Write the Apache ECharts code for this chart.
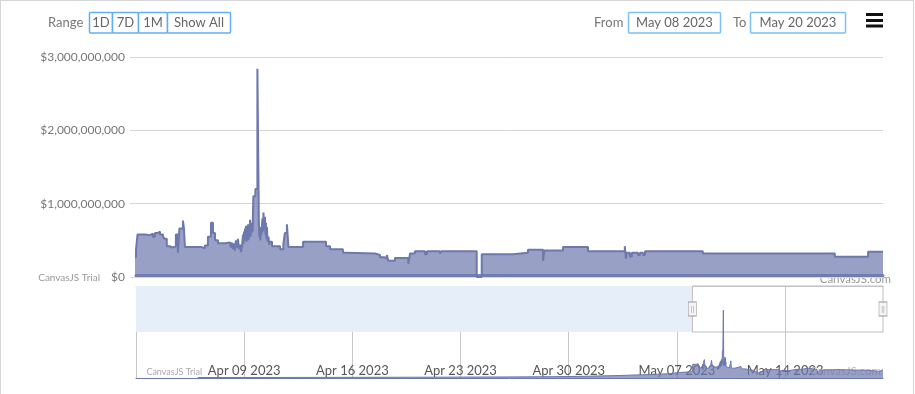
<!DOCTYPE html>
<html><head><meta charset="utf-8">
<script src="https://cdn.jsdelivr.net/npm/echarts@6/dist/echarts.min.js"></script>
<style>
html,body{margin:0;padding:0;background:#fff;}
#chart{width:915px;height:394px;position:absolute;left:0;top:0;}
#frame{position:absolute;left:0;top:0;width:912px;height:400px;border:1px solid #d6d6d6;pointer-events:none;}
</style></head><body>
<div id="chart"></div><div id="frame"></div>
<script>
// ---- data (values in billions of USD) ----
const historyTimes = ['2023-04-06 00:00','2023-04-09 00:00','2023-04-18 00:00','2023-04-22 00:00','2023-04-26 00:00','2023-04-29 00:00','2023-05-01 00:00','2023-05-03 00:00','2023-05-05 00:00','2023-05-06 12:00','2023-05-07 00:00'];
const historyValues = [0.02,0.03,0.035,0.045,0.055,0.07,0.10,0.14,0.18,0.22,0.27];

const windowTimes = [
'2023-05-08 00:00','2023-05-08 00:36','2023-05-08 03:36','2023-05-08 05:30','2023-05-08 06:42','2023-05-08 07:30','2023-05-08 08:42','2023-05-08 09:30','2023-05-08 10:42','2023-05-08 11:18','2023-05-08 12:12','2023-05-08 13:30','2023-05-08 14:18','2023-05-08 15:48','2023-05-08 16:36','2023-05-08 17:12','2023-05-08 18:36','2023-05-08 19:00','2023-05-08 19:24',
'2023-05-09 01:48','2023-05-09 03:18','2023-05-09 04:30','2023-05-09 05:42','2023-05-09 06:30','2023-05-09 07:18','2023-05-09 08:30','2023-05-09 11:18',
'2023-05-09 13:12','2023-05-09 13:36','2023-05-09 14:00','2023-05-09 14:24','2023-05-09 14:48','2023-05-09 15:12','2023-05-09 15:36','2023-05-09 16:00','2023-05-09 16:24','2023-05-09 16:48','2023-05-09 17:12','2023-05-09 17:36','2023-05-09 18:00','2023-05-09 18:24','2023-05-09 18:36','2023-05-09 18:48',
'2023-05-09 19:00','2023-05-09 19:12','2023-05-09 19:24','2023-05-09 19:36','2023-05-09 19:48','2023-05-09 20:00','2023-05-09 20:12','2023-05-09 20:24','2023-05-09 20:36','2023-05-09 20:48','2023-05-09 21:00','2023-05-09 21:12','2023-05-09 21:24','2023-05-09 21:36','2023-05-09 21:48','2023-05-09 22:00','2023-05-09 22:12','2023-05-09 22:30','2023-05-09 23:18',
'2023-05-10 00:06','2023-05-10 00:42','2023-05-10 00:54','2023-05-10 01:06','2023-05-10 01:18','2023-05-10 01:30','2023-05-10 01:42','2023-05-10 02:06','2023-05-10 02:18','2023-05-10 02:30','2023-05-10 02:48','2023-05-10 03:06','2023-05-10 03:18','2023-05-10 03:30','2023-05-10 03:42','2023-05-10 03:54','2023-05-10 04:06','2023-05-10 04:30','2023-05-10 04:48','2023-05-10 05:06','2023-05-10 05:54',
'2023-05-10 09:06','2023-05-10 10:24','2023-05-10 11:00','2023-05-10 11:48','2023-05-10 12:24','2023-05-10 18:12',
'2023-05-11 03:18','2023-05-11 04:54','2023-05-11 10:00','2023-05-11 11:30','2023-05-11 22:42',
'2023-05-12 00:42','2023-05-12 02:36','2023-05-12 03:24','2023-05-12 04:00','2023-05-12 06:36','2023-05-12 11:54','2023-05-12 12:36','2023-05-12 14:30','2023-05-12 18:30','2023-05-12 19:18',
'2023-05-13 00:24','2023-05-13 01:00','2023-05-13 15:00','2023-05-13 17:00',
'2023-05-14 05:24','2023-05-14 11:18','2023-05-14 17:18','2023-05-14 17:48',
'2023-05-15 01:12','2023-05-15 11:06',
'2023-05-16 01:42','2023-05-16 02:06','2023-05-16 02:30','2023-05-16 03:42','2023-05-16 04:30','2023-05-16 06:54','2023-05-16 07:42','2023-05-16 08:54','2023-05-16 09:42',
'2023-05-17 08:36','2023-05-19 12:54','2023-05-20 02:06','2023-05-20 08:00'
];
const windowValues = [
0.37,0.58,0.57,0.59,0.55,0.60,0.62,0.58,0.55,0.52,0.42,0.40,0.42,0.58,0.33,0.66,0.77,0.66,0.41,
0.39,0.43,0.55,0.74,0.60,0.50,0.46,0.47,
0.45,0.40,0.47,0.38,0.46,0.36,0.50,0.40,0.52,0.38,0.44,0.34,0.42,0.58,0.45,0.62,
0.50,0.66,0.52,0.70,0.48,0.64,0.55,0.72,0.50,0.68,0.58,0.78,0.55,0.70,0.60,0.74,0.62,1.10,1.20,
2.84,0.72,0.55,0.68,0.50,0.66,0.58,0.80,0.62,0.88,0.66,0.82,0.58,0.74,0.52,0.68,0.48,0.55,0.44,0.48,0.42,
0.38,0.45,0.60,0.72,0.41,0.48,
0.42,0.38,0.33,0.32,0.30,
0.27,0.25,0.30,0.22,0.26,0.18,0.32,0.35,0.31,0.35,
0.32,0.35,0.00,0.31,
0.33,0.37,0.22,0.36,
0.41,0.35,
0.42,0.25,0.33,0.28,0.33,0.30,0.33,0.30,0.35,
0.32,0.275,0.345,0.345
];

const yTickValues = [0, 1e9, 2e9, 3e9];
const rangeButtons = ['1D','7D','1M','Show All'];
const fromText = 'May 08 2023';
const toText = 'May 20 2023';
const navStartStr = '2023-04-02 00:00';
const viewStartStr = '2023-05-08 00:00';
const viewEndStr = '2023-05-20 08:00';
const months = ['Jan','Feb','Mar','Apr','May','Jun','Jul','Aug','Sep','Oct','Nov','Dec'];

// ---- build ----
function toMs(s){const [d,t]=s.split(' ');const [Y,M,D]=d.split('-').map(Number);const [h,m]=t.split(':').map(Number);return new Date(Y,M-1,D,h,m).getTime();}
const allTimes = historyTimes.concat(windowTimes);
const allValues = historyValues.concat(windowValues);
const data = allTimes.map((t,i)=>[toMs(t), allValues[i]*1e9]);
const navStart = toMs(navStartStr), viewStart = toMs(viewStartStr), viewEnd = toMs(viewEndStr);
const WEEK = 7*24*3600*1000;
const navMax = 3.85e9;
const COLOR = '#6D78AD';
const FONT = 'Lato, "Open Sans", sans-serif';
function fmtDate(v){const d=new Date(v);return months[d.getMonth()]+' '+String(d.getDate()).padStart(2,'0')+' '+d.getFullYear();}
function fmtMoney(v){return '$'+Math.round(v).toLocaleString('en-US');}

const graphics = [];
graphics.push({type:'text',x:48,y:22.5,style:{text:'Range',fill:'#777',font:'13px '+FONT,align:'left',verticalAlign:'middle'}});
const btnEdges = [89.5,112.5,138.5,167.5,230.5];
rangeButtons.forEach((b,i)=>{
  graphics.push({type:'rect',shape:{x:btnEdges[i],y:12.5,width:btnEdges[i+1]-btnEdges[i],height:20.5,r:1},style:{fill:'#fff',stroke:'#62aef3',lineWidth:1.5}});
  graphics.push({type:'text',x:(btnEdges[i]+btnEdges[i+1])/2,y:22.5,style:{text:b,fill:'#666',font:'13px '+FONT,align:'center',verticalAlign:'middle'}});
});
graphics.push({type:'text',x:594,y:22.5,style:{text:'From',fill:'#777',font:'13px '+FONT,align:'left',verticalAlign:'middle'}});
graphics.push({type:'rect',shape:{x:628.5,y:12.5,width:92,height:20.5,r:1},style:{fill:'#fff',stroke:'#7cc0f5',lineWidth:1.5}});
graphics.push({type:'text',x:674.5,y:22.5,style:{text:fromText,fill:'#666',font:'13px '+FONT,align:'center',verticalAlign:'middle'}});
graphics.push({type:'text',x:733,y:22.5,style:{text:'To',fill:'#777',font:'13px '+FONT,align:'left',verticalAlign:'middle'}});
graphics.push({type:'rect',shape:{x:750.5,y:12.5,width:95,height:20.5,r:1},style:{fill:'#fff',stroke:'#7cc0f5',lineWidth:1.5}});
graphics.push({type:'text',x:798,y:22.5,style:{text:toText,fill:'#666',font:'13px '+FONT,align:'center',verticalAlign:'middle'}});
[13,19,24.5].forEach(y=>graphics.push({type:'rect',shape:{x:866,y:y,width:17,height:3},style:{fill:'#111'}}));
// watermarks
graphics.push({type:'text',x:100,y:277.5,style:{text:'CanvasJS Trial',fill:'#999',font:'10px '+FONT,align:'right',verticalAlign:'middle'}});
graphics.push({type:'text',x:891,y:279,style:{text:'CanvasJS.com',fill:'#999',font:'11.5px '+FONT,align:'right',verticalAlign:'middle'}});
graphics.push({type:'text',x:202,y:372,style:{text:'CanvasJS Trial',fill:'#aaa',font:'9px '+FONT,align:'right',verticalAlign:'middle'},z:1});
graphics.push({type:'text',x:881,y:371,style:{text:'CanvasJS.com',fill:'#bbb',font:'11.5px '+FONT,align:'right',verticalAlign:'middle'},z:1});

const chart = echarts.init(document.getElementById('chart'), null, {renderer:'canvas'});
chart.setOption({
  animation:false,
  backgroundColor:'#fff',
  grid:[
    {left:136,right:32,top:57,bottom:117,containLabel:false},
    {left:136,right:32,top:286,bottom:16,containLabel:false}
  ],
  xAxis:[
    {gridIndex:0,type:'value',min:viewStart,max:viewEnd,offset:-2,
     axisLabel:{show:false},axisTick:{show:false},splitLine:{show:false},
     axisLine:{show:true,lineStyle:{color:COLOR,width:3,opacity:0.9}}},
    {gridIndex:1,type:'value',min:navStart,max:viewEnd,interval:WEEK,
     axisLabel:{inside:true,margin:1,showMinLabel:false,showMaxLabel:false,formatter:fmtDate,color:'#555',fontSize:13,fontFamily:FONT},
     axisTick:{show:false},axisLine:{show:true,lineStyle:{color:COLOR,width:1}},
     splitLine:{show:true,showMaxLine:false,lineStyle:{color:'#c8c8c8',width:1}}},
    {gridIndex:1,type:'value',position:'top',min:navStart,max:viewEnd,
     axisLabel:{show:false},axisTick:{show:false},splitLine:{show:false},
     axisLine:{show:true,lineStyle:{color:'#c8c8c8',width:1}}}
  ],
  yAxis:[
    {gridIndex:0,type:'value',min:yTickValues[0],max:yTickValues[yTickValues.length-1],interval:yTickValues[1]-yTickValues[0],
     axisLabel:{formatter:fmtMoney,color:'#777',fontSize:12,fontFamily:FONT,margin:11},
     axisTick:{show:true,length:6,lineStyle:{color:'#d6d6d6'}},
     axisLine:{show:false},
     splitLine:{show:true,lineStyle:{color:'#d6d6d6',width:1}}},
    {gridIndex:1,type:'value',min:0,max:navMax,show:false,splitLine:{show:false}}
  ],
  series:[
    {type:'line',xAxisIndex:0,yAxisIndex:0,data:data,step:'end',symbol:'none',clip:true,
     lineStyle:{color:COLOR,width:2},areaStyle:{color:COLOR,opacity:0.7},z:3},
    {type:'line',xAxisIndex:1,yAxisIndex:1,data:data,step:'end',symbol:'none',clip:true,
     lineStyle:{color:COLOR,width:1},areaStyle:{color:COLOR,opacity:0.7},z:3,
     markArea:{silent:true,data:[
       [{xAxis:navStart,yAxis:navMax/2,itemStyle:{color:'#e6eefa',borderWidth:0}},{xAxis:viewStart,yAxis:navMax}],
       [{xAxis:viewStart,yAxis:navMax/2,itemStyle:{color:'rgba(0,0,0,0)',borderColor:'#bdbdbd',borderWidth:1}},{xAxis:viewEnd,yAxis:navMax}]
     ]},
     markPoint:{silent:true,symbol:'rect',symbolSize:[8,14],
       itemStyle:{color:'#f4f4f4',borderColor:'#b5b5b5',borderWidth:1},
       label:{show:true,position:'inside',formatter:'||',color:'#aaa',fontSize:7},
       data:[{coord:[viewStart,navMax*0.75]},{coord:[viewEnd,navMax*0.75]}]}
    }
  ],
  graphic:{elements:graphics}
});
</script>
</body></html>
